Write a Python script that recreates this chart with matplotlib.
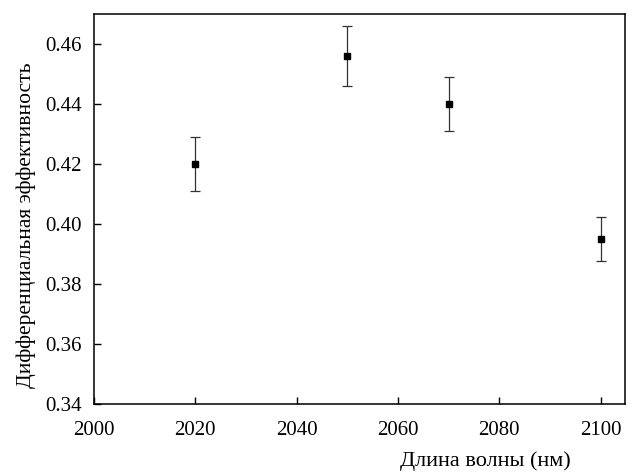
import matplotlib
matplotlib.use("Agg")
import matplotlib.pyplot as plt

wavelength = [2020, 2050, 2070, 2100]
efficiency = [0.420, 0.456, 0.440, 0.395]
errors = [0.009, 0.010, 0.009, 0.0073]

plt.rcParams['font.family'] = ['Liberation Serif', 'DejaVu Serif']

fig = plt.figure(figsize=(6.33, 4.72), dpi=100)
ax = fig.add_axes([94/633, 68/472, 531/633, 390/472])

ax.errorbar(wavelength, efficiency, yerr=errors, fmt='s', color='black',
            ecolor='#333333', elinewidth=0.9, capsize=3.5, capthick=0.9,
            markersize=5)

ax.set_xlim(2000, 2104.8)
ax.set_ylim(0.34, 0.47)
ax.set_xticks([2000, 2020, 2040, 2060, 2080, 2100])
ax.set_yticks([0.34, 0.36, 0.38, 0.40, 0.42, 0.44, 0.46])
ax.set_yticklabels(['%.2f' % v for v in [0.34, 0.36, 0.38, 0.40, 0.42, 0.44, 0.46]])
ax.tick_params(direction='in', length=5, width=1, labelsize=15, top=False, right=False)
ax.tick_params(axis='x', pad=12)
ax.tick_params(axis='y', pad=9)
for s in ax.spines.values():
    s.set_linewidth(1.1)

ax.set_xlabel('Длина волны (нм)', fontsize=16)
ax.xaxis.set_label_coords(0.737, -0.12)
ax.set_ylabel('Дифференциальная эффективность', fontsize=15.5)
ax.yaxis.set_label_coords(-0.11, 0.458)

plt.savefig('out.png', dpi=100)
